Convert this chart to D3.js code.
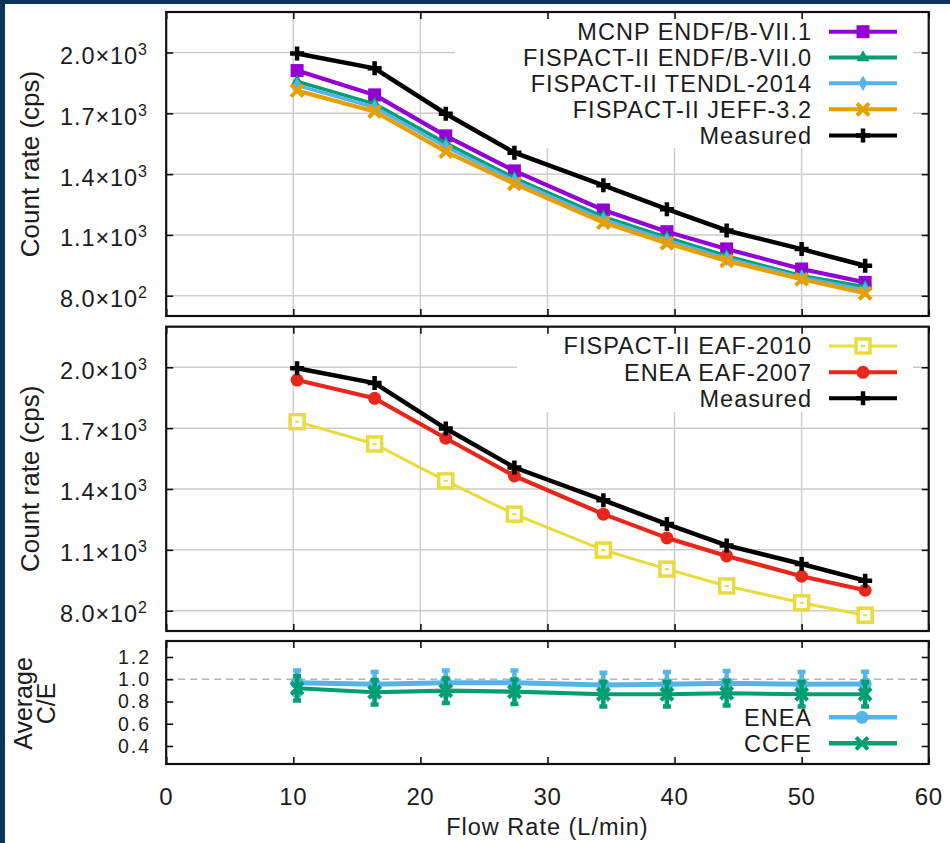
<!DOCTYPE html>
<html>
<head>
<meta charset="utf-8">
<script src="https://cdn.jsdelivr.net/npm/d3@7"></script>
<style>
  html, body { margin: 0; padding: 0; background: #0b355c; }
  svg { display: block; }
  text { font-family: "Liberation Sans", Arial, sans-serif; fill: #1c1c1c; }
</style>
</head>
<body>
<svg id="chart" width="950" height="843"></svg>
<script>
// ---- data ----------------------------------------------------------
const flowRate = [10.3, 16.4, 22.0, 27.4, 34.4, 39.4, 44.1, 50.0, 55.0];

const measured       = [1995, 1922, 1698, 1506, 1345, 1227, 1122, 1030, 948];
const mcnpEndfB71    = [1911, 1791, 1589, 1416, 1223, 1116, 1031, 932, 866];
const fispactEndfB70 = [1857, 1747, 1553, 1381, 1190, 1088, 996, 899, 844];
const fispactTendl   = [1838, 1730, 1535, 1368, 1176, 1074, 984, 890, 829];
const fispactJeff    = [1812, 1709, 1511, 1352, 1161, 1059, 972, 881, 812];

const fispactEaf2010 = [1732, 1622, 1440, 1276, 1099, 1005, 922, 839, 778];
const eneaEaf2007    = [1937, 1847, 1650, 1464, 1276, 1159, 1070, 970, 901];

const ceEnea    = [0.969, 0.955, 0.969, 0.969, 0.949, 0.955, 0.964, 0.955, 0.958];
const ceEneaErr = [0.11, 0.11, 0.11, 0.11, 0.11, 0.11, 0.11, 0.11, 0.11];
const ceCcfe    = [0.919, 0.883, 0.897, 0.888, 0.865, 0.865, 0.874, 0.865, 0.865];
const ceCcfeErr = [0.11, 0.11, 0.11, 0.11, 0.11, 0.11, 0.11, 0.11, 0.11];

const xTicks = [0, 10, 20, 30, 40, 50, 60];
const countTicks = [800, 1100, 1400, 1700, 2000];
const ratioTicks = [0.4, 0.6, 0.8, 1.0, 1.2];

// ---- layout --------------------------------------------------------
const svg = d3.select("#chart");
svg.append("rect").attr("x", 5).attr("y", 4).attr("width", 945).attr("height", 839).attr("fill", "#fff");

const X0 = 166.2, X1 = 928.7;
const x = d3.scaleLinear().domain([0, 60]).range([X0, X1]);

const P1 = { top: 12, bottom: 316 };
const P2 = { top: 326.7, bottom: 631 };
const P3 = { top: 641, bottom: 764 };
const y1 = d3.scaleLinear().domain([700, 2200]).range([P1.bottom, P1.top]);
const y2 = d3.scaleLinear().domain([700, 2200]).range([P2.bottom, P2.top]);
const y3 = d3.scaleLinear().domain([0.238, 1.344]).range([P3.bottom, P3.top]);

const FS = 23.5, LS = 1;
const gridColor = "#cdcdcd";

function grid(g, yScale, yTicks, p) {
  g.append("g").selectAll("line").data(xTicks.slice(1, -1)).join("line")
    .attr("x1", d => x(d)).attr("x2", d => x(d))
    .attr("y1", p.top).attr("y2", p.bottom)
    .attr("stroke", gridColor).attr("stroke-width", 1.5);
  g.append("g").selectAll("line").data(yTicks).join("line")
    .attr("x1", X0).attr("x2", X1)
    .attr("y1", d => yScale(d)).attr("y2", d => yScale(d))
    .attr("stroke", gridColor).attr("stroke-width", 1.5);
}

function frame(g, yScale, yTicks, p) {
  const tick = 7;
  const style = s => {
    s.select(".domain").remove();
    s.selectAll(".tick line").attr("stroke", "#111").attr("stroke-width", 1.6);
  };
  g.append("g").attr("transform", `translate(${X0},0)`)
    .call(d3.axisLeft(yScale).tickValues(yTicks).tickSize(-tick).tickFormat("")).call(style);
  g.append("g").attr("transform", `translate(${X1},0)`)
    .call(d3.axisRight(yScale).tickValues(yTicks).tickSize(-tick).tickFormat("")).call(style);
  g.append("g").attr("transform", `translate(0,${p.bottom})`)
    .call(d3.axisBottom(x).tickValues(xTicks).tickSize(-tick).tickFormat("")).call(style);
  g.append("g").attr("transform", `translate(0,${p.top})`)
    .call(d3.axisTop(x).tickValues(xTicks).tickSize(-tick).tickFormat("")).call(style);
  g.append("rect").attr("x", X0).attr("y", p.top)
    .attr("width", X1 - X0).attr("height", p.bottom - p.top)
    .attr("fill", "none").attr("stroke", "#111").attr("stroke-width", 2.2);
}

function sciLabels(g, yScale, ticks) {
  ticks.forEach(v => {
    const e = Math.floor(Math.log10(v));
    const m = (v / Math.pow(10, e)).toFixed(1);
    const yy = yScale(v);
    g.append("text").attr("x", 138).attr("y", yy + 11.5)
      .attr("text-anchor", "end").attr("font-size", FS).attr("letter-spacing", 0.9)
      .text(`${m}×10`);
    g.append("text").attr("x", 138).attr("y", yy + 2.5)
      .attr("font-size", 16).text(e);
  });
}

function yTitle(lines, cy, size) {
  lines.forEach(([txt, bx]) => {
    svg.append("text")
      .attr("transform", `translate(${bx},${cy}) rotate(-90)`)
      .attr("text-anchor", "middle").attr("font-size", size).text(txt);
  });
}

function marker(g, kind, color, cx, cy) {
  if (kind === "square") {
    g.append("rect").attr("x", cx - 6.5).attr("y", cy - 6.5).attr("width", 13).attr("height", 13).attr("fill", color);
  } else if (kind === "openSquare") {
    g.append("rect").attr("x", cx - 7).attr("y", cy - 7).attr("width", 14).attr("height", 14)
      .attr("fill", "#fff").attr("stroke", color).attr("stroke-width", 3.5);
    g.append("rect").attr("x", cx - 2).attr("y", cy - 1).attr("width", 4).attr("height", 2).attr("fill", color);
  } else if (kind === "triangle") {
    g.append("path").attr("transform", `translate(${cx},${cy})`)
      .attr("d", d3.symbol(d3.symbolTriangle).size(70)()).attr("fill", color);
  } else if (kind === "diamond") {
    g.append("path").attr("transform", `translate(${cx},${cy})`)
      .attr("d", d3.symbol(d3.symbolDiamond).size(70)()).attr("fill", color);
  } else if (kind === "circle") {
    g.append("circle").attr("cx", cx).attr("cy", cy).attr("r", 6.5).attr("fill", color);
  } else if (kind === "cross") {
    g.append("path").attr("d", `M${cx - 6},${cy - 6}L${cx + 6},${cy + 6}M${cx - 6},${cy + 6}L${cx + 6},${cy - 6}`)
      .attr("stroke", color).attr("stroke-width", 4).attr("fill", "none");
  } else if (kind === "plus") {
    g.append("path").attr("d", `M${cx - 7},${cy}H${cx + 7}M${cx},${cy - 7}V${cy + 7}`)
      .attr("stroke", color).attr("stroke-width", 4.5).attr("fill", "none");
  }
}

function series(g, yScale, values, color, width, kind) {
  const pts = flowRate.map((f, i) => [f, values[i]]);
  const line = d3.line().x(d => x(d[0])).y(d => yScale(d[1]));
  g.append("path").datum(pts).attr("d", line)
    .attr("fill", "none").attr("stroke", color).attr("stroke-width", width)
    .attr("stroke-linejoin", "round");
  pts.forEach(d => marker(g, kind, color, x(d[0]), yScale(d[1])));
}

function legend(g, rows) {
  rows.forEach(r => {
    g.append("text").attr("x", 812).attr("y", r.y + 8.4)
      .attr("text-anchor", "end").attr("font-size", FS).attr("letter-spacing", LS).text(r.label);
    g.append("line").attr("x1", 829).attr("x2", 897).attr("y1", r.y).attr("y2", r.y)
      .attr("stroke", r.color).attr("stroke-width", r.width);
    marker(g, r.kind, r.color, 863, r.y);
  });
}

const C = {
  purple: "#9400d3", green: "#009e73", blue: "#56b4e9", orange: "#e69f00",
  black: "#000000", yellow: "#e8dc3a", red: "#e8271c"
};

// ---- panel 1: transport code comparison -----------------------------
const g1 = svg.append("g");
grid(g1, y1, countTicks, P1);
g1.append("rect").attr("x", 455).attr("y", P1.top + 1).attr("width", 913 - 455).attr("height", 148 - P1.top - 1).attr("fill", "#fff");
series(g1, y1, mcnpEndfB71, C.purple, 4.2, "square");
series(g1, y1, fispactEndfB70, C.green, 3.5, "triangle");
series(g1, y1, fispactTendl, C.blue, 3.5, "diamond");
series(g1, y1, fispactJeff, C.orange, 4.2, "cross");
series(g1, y1, measured, C.black, 4.5, "plus");
frame(g1, y1, countTicks, P1);
sciLabels(g1, y1, countTicks);
legend(g1, [
  { label: "MCNP ENDF/B-VII.1", color: C.purple, width: 4, kind: "square", y: 31.7 },
  { label: "FISPACT-II ENDF/B-VII.0", color: C.green, width: 4, kind: "triangle", y: 57.5 },
  { label: "FISPACT-II TENDL-2014", color: C.blue, width: 4, kind: "diamond", y: 83.3 },
  { label: "FISPACT-II JEFF-3.2", color: C.orange, width: 4, kind: "cross", y: 109.3 },
  { label: "Measured", color: C.black, width: 4, kind: "plus", y: 135.5 }
]);

// ---- panel 2: EAF libraries -----------------------------------------
const g2 = svg.append("g");
grid(g2, y2, countTicks, P2);
g2.append("rect").attr("x", 517).attr("y", P2.top + 1).attr("width", 913 - 517).attr("height", 412 - P2.top - 1).attr("fill", "#fff");
series(g2, y2, fispactEaf2010, C.yellow, 3, "openSquare");
series(g2, y2, eneaEaf2007, C.red, 4.2, "circle");
series(g2, y2, measured, C.black, 4.5, "plus");
frame(g2, y2, countTicks, P2);
sciLabels(g2, y2, countTicks);
legend(g2, [
  { label: "FISPACT-II EAF-2010", color: C.yellow, width: 3, kind: "openSquare", y: 346 },
  { label: "ENEA EAF-2007", color: C.red, width: 4, kind: "circle", y: 372.3 },
  { label: "Measured", color: C.black, width: 4, kind: "plus", y: 398.3 }
]);

// ---- panel 3: average C/E --------------------------------------------
const g3 = svg.append("g");
g3.append("line").attr("x1", X0).attr("x2", X1).attr("y1", y3(1)).attr("y2", y3(1))
  .attr("stroke", "#b4b4b4").attr("stroke-width", 1.5).attr("stroke-dasharray", "7,5");

function ratioSeries(values, errs, color, kind, width) {
  const pts = flowRate.map((f, i) => [f, values[i], errs[i]]);
  g3.append("path").datum(pts)
    .attr("d", d3.line().x(d => x(d[0])).y(d => y3(d[1])))
    .attr("fill", "none").attr("stroke", color).attr("stroke-width", width);
  pts.forEach(d => {
    const cx = x(d[0]), lo = y3(d[1] - d[2]), hi = y3(d[1] + d[2]);
    g3.append("path").attr("d", `M${cx},${lo}V${hi}M${cx - 4},${lo}H${cx + 4}M${cx - 4},${hi}H${cx + 4}`)
      .attr("stroke", color).attr("stroke-width", 4.5).attr("fill", "none");
    marker(g3, kind, color, cx, y3(d[1]));
  });
}
ratioSeries(ceEnea, ceEneaErr, C.blue, "circle", 5);
ratioSeries(ceCcfe, ceCcfeErr, C.green, "cross", 4.2);
frame(g3, y3, ratioTicks, P3);
ratioTicks.forEach(v => {
  g3.append("text").attr("x", 151).attr("y", y3(v) + 7)
    .attr("text-anchor", "end").attr("font-size", 19.5).attr("letter-spacing", 2).text(v.toFixed(1));
});
[
  { label: "ENEA", color: C.blue, width: 4.5, kind: "circle", y: 717.3 },
  { label: "CCFE", color: C.green, width: 4.5, kind: "cross", y: 743.3 }
].forEach(r => {
  g3.append("text").attr("x", 812).attr("y", r.y + 8.4)
    .attr("text-anchor", "end").attr("font-size", FS).attr("letter-spacing", LS).text(r.label);
  g3.append("line").attr("x1", 829).attr("x2", 897).attr("y1", r.y).attr("y2", r.y)
    .attr("stroke", r.color).attr("stroke-width", r.width);
  marker(g3, r.kind, r.color, 862, r.y);
});

// ---- shared x axis labels and titles ----------------------------------
xTicks.forEach(v => {
  svg.append("text").attr("x", x(v)).attr("y", 805)
    .attr("text-anchor", "middle").attr("font-size", FS + 0.5).attr("letter-spacing", 0.6).text(v);
});
svg.append("text").attr("x", x(30)).attr("y", 835)
  .attr("text-anchor", "middle").attr("font-size", FS).attr("letter-spacing", LS).text("Flow Rate (L/min)");

yTitle([["Count rate (cps)", 39]], (P1.top + P1.bottom) / 2, 26);
yTitle([["Count rate (cps)", 39]], (P2.top + P2.bottom) / 2, 26);
yTitle([["Average", 32], ["C/E", 55]], (P3.top + P3.bottom) / 2 + 1, 25);
</script>
</body>
</html>
